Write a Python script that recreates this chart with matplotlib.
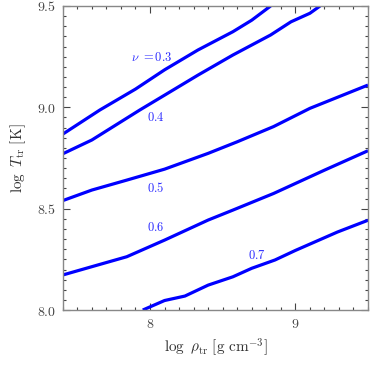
import matplotlib
matplotlib.use('Agg')
import matplotlib.pyplot as plt
from matplotlib.ticker import MultipleLocator

plt.rcParams['mathtext.fontset'] = 'cm'
plt.rcParams['font.family'] = 'DejaVu Serif'

# log rho_tr, log T_tr for each nu
rho_03 = [7.4, 7.655, 7.9, 8.1, 8.33, 8.57, 8.7, 8.83]
T_03 = [8.868, 8.987, 9.09, 9.185, 9.283, 9.373, 9.43, 9.5]

rho_04 = [7.4, 7.6, 7.93, 8.1, 8.33, 8.57, 8.83, 8.97, 9.1, 9.17]
T_04 = [8.771, 8.839, 8.987, 9.06, 9.159, 9.258, 9.357, 9.422, 9.464, 9.5]

rho_05 = [7.4, 7.6, 7.84, 8.1, 8.4, 8.6, 8.85, 9.1, 9.5]
T_05 = [8.54, 8.592, 8.641, 8.695, 8.773, 8.83, 8.905, 8.995, 9.11]

rho_06 = [7.4, 7.6, 7.84, 8.1, 8.4, 8.57, 8.85, 9.2, 9.5]
T_06 = [8.173, 8.214, 8.263, 8.345, 8.444, 8.493, 8.575, 8.69, 8.786]

rho_07 = [7.95, 8.1, 8.24, 8.4, 8.57, 8.7, 8.86, 9.0, 9.29, 9.5]
T_07 = [8.0, 8.047, 8.069, 8.123, 8.164, 8.206, 8.247, 8.294, 8.385, 8.443]

curves = [(rho_03, T_03), (rho_04, T_04), (rho_05, T_05), (rho_06, T_06), (rho_07, T_07)]
labels = [r'$\nu\ {=}0.3$', r'$0.4$', r'$0.5$', r'$0.6$', r'$0.7$']

fig = plt.figure(figsize=(3.74, 3.74), dpi=100)
ax = fig.add_axes([0.168, 0.171, 0.816, 0.813])

for x, y in curves:
    ax.plot(x, y, color='#0000ff', lw=2.3, solid_capstyle='butt', solid_joinstyle='round')

label_pos = [(8.01, 9.248), (8.04, 8.952), (8.04, 8.60), (8.04, 8.406), (8.735, 8.27)]
for (lx, ly), txt in zip(label_pos, labels):
    ax.text(lx, ly, txt, color='#2a2aff', fontsize=9, ha='center', va='center')

ax.set_xlim(7.4, 9.5)
ax.set_ylim(8.0, 9.5)
ax.xaxis.set_major_locator(MultipleLocator(1))
ax.xaxis.set_minor_locator(MultipleLocator(0.1))
ax.yaxis.set_major_locator(MultipleLocator(0.5))
ax.yaxis.set_minor_locator(MultipleLocator(0.05))
ax.set_xticks([8, 9])
ax.set_xticklabels([r'$8$', r'$9$'])
ax.set_yticks([8.0, 8.5, 9.0, 9.5])
ax.set_yticklabels([r'$8.0$', r'$8.5$', r'$9.0$', r'$9.5$'])

ax.tick_params(which='both', direction='in', top=True, right=True, color='#444444',
               labelcolor='#444444', labelsize=10, width=0.8)
ax.tick_params(which='major', length=5, pad=5)
ax.tick_params(which='minor', length=2.5)
for s in ax.spines.values():
    s.set_color('#888888')
    s.set_linewidth(1.0)

ax.set_xlabel(r'$\log\ \rho_{\rm tr}\ [{\rm g\ cm^{-3}}]$', fontsize=11, color='#333333', labelpad=4)
ax.set_ylabel(r'$\log\ T_{\rm tr}\ [{\rm K}]$', fontsize=11, color='#333333', labelpad=6)

fig.savefig('out.png', dpi=100)
